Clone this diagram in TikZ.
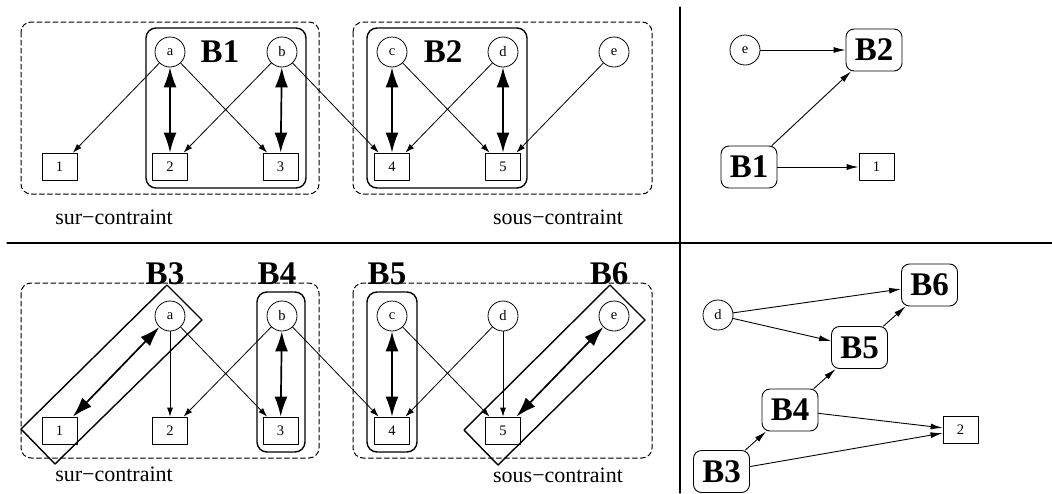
\documentclass[tikz,border=0pt]{standalone}
\usepackage{fontspec}
\setmainfont{Liberation Serif}
\usetikzlibrary{arrows.meta}
\begin{document}
\begin{tikzpicture}[x=1pt,y=-1pt,line join=round,line cap=round,
	var/.style={draw,circle,minimum size=30pt,inner sep=0pt,line width=.8pt,font=\fontsize{14.5}{14.5}\selectfont},
	eqn/.style={draw,rectangle,minimum width=35pt,minimum height=27pt,inner sep=0pt,line width=.8pt,font=\fontsize{14.5}{14.5}\selectfont},
	blk/.style={draw,rounded corners=8pt,minimum width=56pt,minimum height=42pt,inner sep=0pt,line width=.9pt,font=\fontsize{33}{33}\selectfont\bfseries},
	lbl/.style={font=\fontsize{33}{33}\selectfont\bfseries},
	legende/.style={font=\fontsize{22}{22}\selectfont},
	arr/.style={-{Latex[length=9pt,width=6pt]},line width=.8pt},
	darr/.style={{Latex[length=20pt,width=13pt]}-{Latex[length=20pt,width=13pt]},line width=1.7pt},
	dep/.style={-{Latex[length=12pt,width=6pt]},line width=.9pt},
	grp/.style={line width=1.4pt,rounded corners=10pt},
	zone/.style={dash pattern=on 5pt off 3pt,line width=1pt,rounded corners=10pt}]
	\useasboundingbox (0,0) rectangle (1052,493);
	\draw[line width=1.1pt] (7,243)--(1052,243);
	\draw[line width=1.1pt] (680,7)--(680,493);
	% haut gauche
	\draw[zone] (21,22) rectangle (319,194);
	\draw[zone] (353,22) rectangle (652,194);
	\draw[grp] (146,28) rectangle (306,188);
	\draw[grp] (367,28) rectangle (527,188);
	\foreach \n/\x in {a/170,b/282,c/392,d/503,e/614} \node[var] (h\n) at (\x,52) {\n};
	\foreach \n/\x in {1/59.5,2/170,3/280.5,4/392,5/503} \node[eqn] (h\n) at (\x,166.5) {\n};
	\node[lbl] (hB1) at (220,52) {B1};
	\node[lbl] (hB2) at (443,52) {B2};
	\foreach \u/\v in {a/1,a/3,b/2,b/4,c/5,d/4,e/5} \draw[arr] (h\u)--(h\v);
	\foreach \u/\v in {a/2,b/3,c/4,d/5} \draw[darr] (h\u)--(h\v);
	\node[legende] (hsur) at (114,217) {sur−contraint};
	\node[legende] (hsous) at (558,217) {sous−contraint};
	% haut droite
	\node[var] (re) at (745,50) {e};
	\node[blk] (rB2) at (874,50) {B2};
	\node[blk] (rB1) at (749,167) {B1};
	\node[eqn] (r1) at (876.5,167) {1};
	\draw[dep] (re)--(rB2);
	\draw[dep] (rB1)--(rB2);
	\draw[dep] (rB1)--(r1);
	% bas gauche
	\draw[zone] (21,283) rectangle (319,458);
	\draw[zone] (353,283) rectangle (652,458);
	\draw[grp] (257,292) rectangle (305,452);
	\draw[grp] (367,292) rectangle (417,452);
	\draw[line width=1.4pt] (167,285)--(202,320)--(55,464)--(21,429)--cycle;
	\draw[line width=1.4pt] (610,285)--(645,320)--(498,465)--(464,430)--cycle;
	\foreach \n/\x in {a/170,b/282,c/392,d/503,e/614} \node[var] (b\n) at (\x,316) {\n};
	\foreach \n/\x in {1/59.5,2/170,3/280.5,4/392,5/503} \node[eqn] (b\n) at (\x,430.5) {\n};
	\node[lbl] (bB3) at (165,274) {B3};
	\node[lbl] (bB4) at (277,274) {B4};
	\node[lbl] (bB5) at (387,274) {B5};
	\node[lbl] (bB6) at (609,274) {B6};
	\foreach \u/\v in {a/2,a/3,b/2,b/4,c/5,d/4,d/5} \draw[arr] (b\u)--(b\v);
	\foreach \u/\v in {a/1,b/3,c/4,e/5} \draw[darr] (b\u)--(b\v);
	\node[legende] (bsur) at (114,474) {sur−contraint};
	\node[legende] (bsous) at (558,475) {sous−contraint};
	% bas droite
	\node[var] (qd) at (718,315) {d};
	\node[blk] (qB6) at (929.5,285) {B6};
	\node[blk] (qB5) at (859.5,347.5) {B5};
	\node[blk] (qB4) at (790,410) {B4};
	\node[blk] (qB3) at (721.5,471.5) {B3};
	\node[eqn] (q2) at (960.5,430) {2};
	\foreach \u/\v in {d/B6,d/B5,B5/B6,B4/B5,B3/B4,B4/2,B3/2} \draw[dep] (q\u)--(q\v);
\end{tikzpicture}
\end{document}
